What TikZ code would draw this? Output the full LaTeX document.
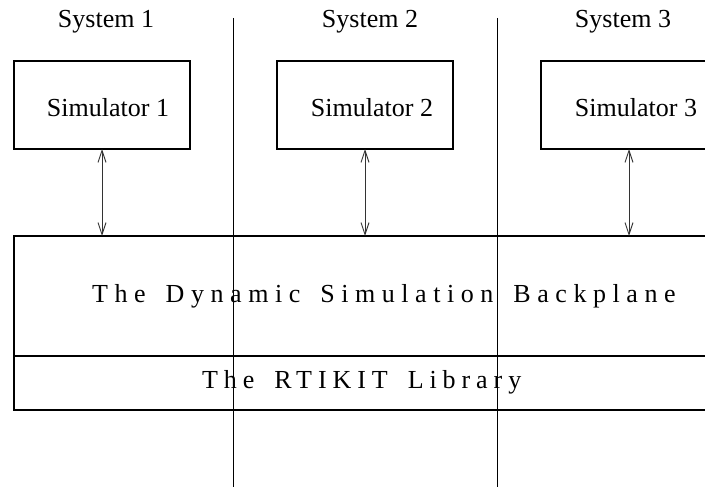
\documentclass[tikz,border=0pt]{standalone}
\usepackage{fontspec}
\setmainfont{Liberation Serif}
\usetikzlibrary{arrows.meta}
\begin{document}
\begin{tikzpicture}[x=1pt,y=-1pt,
  box/.style={draw,line width=1.6pt,rectangle,outer sep=0pt,inner sep=0pt},
  lbl/.style={inner sep=0pt,anchor=base,font=\fontsize{26}{30}\selectfont},
  wide/.style={inner sep=0pt,anchor=base west,
    font=\fontsize{26}{30}\selectfont\addfontfeature{LetterSpace=#1}},
  divider/.style={line width=0.9pt},
  link/.style={line width=0.9pt,black!80,
    {Straight Barb[length=12pt,width=8pt]}-{Straight Barb[length=12pt,width=8pt]}}]
\clip (0,0) rectangle (705,487);

% system partitions
\coordinate (d1top) at (233,18);
\coordinate (d1bot) at (233,490);
\coordinate (d2top) at (497,18);
\coordinate (d2bot) at (497,490);
\draw[divider] (d1top) -- (d1bot);
\draw[divider] (d2top) -- (d2bot);

% system titles
\node[lbl] (sys1) at (106,28) {System 1};
\node[lbl] (sys2) at (370,28) {System 2};
\node[lbl] (sys3) at (623,28) {System 3};

% simulators
\node[box,minimum width=176pt,minimum height=88pt] (sim1) at (102,105) {};
\node[box,minimum width=176pt,minimum height=88pt] (sim2) at (365,105) {};
\node[box,minimum width=176pt,minimum height=88pt] (sim3) at (629,105) {};
\node[lbl] (sim1t) at (108,117) {Simulator 1};
\node[lbl] (sim2t) at (372,117) {Simulator 2};
\node[lbl] (sim3t) at (636,117) {Simulator 3};

% backplane and library layers (letter-spaced, with wider word gaps)
\node[box,minimum width=716pt,minimum height=120pt] (backplane) at (372,296) {};
\node[box,minimum width=716pt,minimum height=54pt] (library) at (372,383) {};
\node[wide=25.2] (backplanet) at (92,302)
  {The\hspace{20pt}Dynamic\hspace{20pt}Simulation\hspace{20pt}Backplane};
\node[wide=22.8] (libraryt) at (202,388)
  {The\hspace{20pt}RTIKIT\hspace{20pt}Library};

% simulator <-> backplane links
\draw[link] (sim1.south) -- (sim1.south |- backplane.north);
\draw[link] (sim2.south) -- (sim2.south |- backplane.north);
\draw[link] (sim3.south) -- (sim3.south |- backplane.north);
\end{tikzpicture}
\end{document}
